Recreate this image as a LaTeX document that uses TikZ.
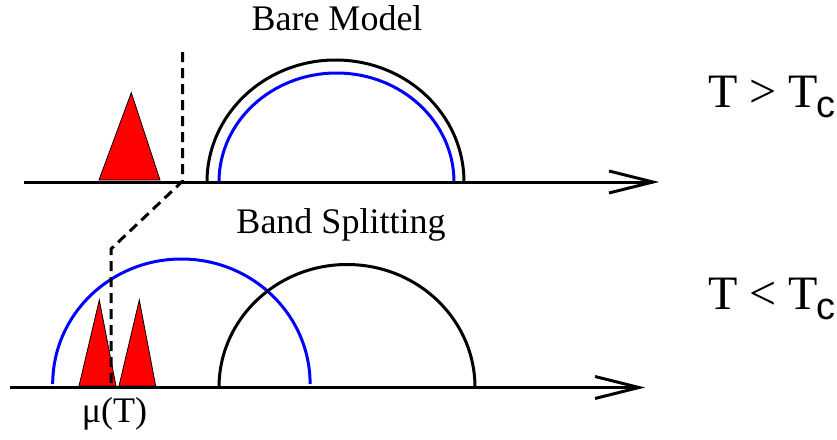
\documentclass[tikz,border=0pt]{standalone}
\usepackage{fontspec}
\setmainfont{Liberation Serif}
\newfontfamily\sansc{Liberation Sans}
\begin{document}
\begin{tikzpicture}[x=1pt,y=-1pt,
  axisline/.style={line width=3pt,line join=miter},
  bandblack/.style={line width=3pt},
  bandblue/.style={line width=3pt,draw={rgb,255:red,0;green,0;blue,255}},
  peak/.style={fill=red,draw=black,line width=0.8pt,line join=miter},
  dashline/.style={line width=3pt,dash pattern=on 10pt off 6pt},
  lbl/.style={font=\fontsize{36}{40}\selectfont,inner sep=0pt,anchor=base},
  tlbl/.style={font=\fontsize{48}{52}\selectfont,inner sep=0pt,anchor=base west}]
\useasboundingbox (0,0) rectangle (837,439);
% top panel
\draw[peak] (99,180) -- (131.3,92.7) -- (160,180) -- cycle;
\draw[bandblack] (207,182) arc[start angle=180,end angle=360,x radius=128.5,y radius=122];
\draw[bandblue] (219,182) arc[start angle=180,end angle=360,x radius=117.5,y radius=109];
\draw[axisline] (24,182) -- (653,182);
\draw[axisline] (609,171) -- (653,182) -- (609,193);
% bottom panel
\draw[peak] (79,386) -- (99.3,300) -- (116,386) -- cycle;
\draw[peak] (119,386) -- (139.3,300) -- (155.7,386) -- cycle;
\draw[bandblue] (52.7,384) arc[start angle=180,end angle=360,x radius=128.7,y radius=125];
\draw[bandblack] (219,387.5) arc[start angle=180,end angle=360,x radius=128,y radius=123];
\draw[axisline] (10,387.5) -- (639,387.5);
\draw[axisline] (595,376.5) -- (639,387.5) -- (595,398.5);
% chemical potential
\draw[dashline] (182.7,52) -- (182.7,181) -- (111,249) -- (111,386);
% labels
\node[lbl] (bare) at (337,30.7) {Bare Model};
\node[lbl] (split) at (341,233) {Band Splitting};
\node[lbl] (mu) at (114.5,422) {μ(T)};
\node[tlbl] (tgt) at (708,107) {T > T\kern-1pt\raisebox{-10pt}{\sansc\fontsize{38}{38}\selectfont c}};
\node[tlbl] (tlt) at (708,309) {T < T\kern-1pt\raisebox{-10pt}{\sansc\fontsize{38}{38}\selectfont c}};
\end{tikzpicture}
\end{document}
